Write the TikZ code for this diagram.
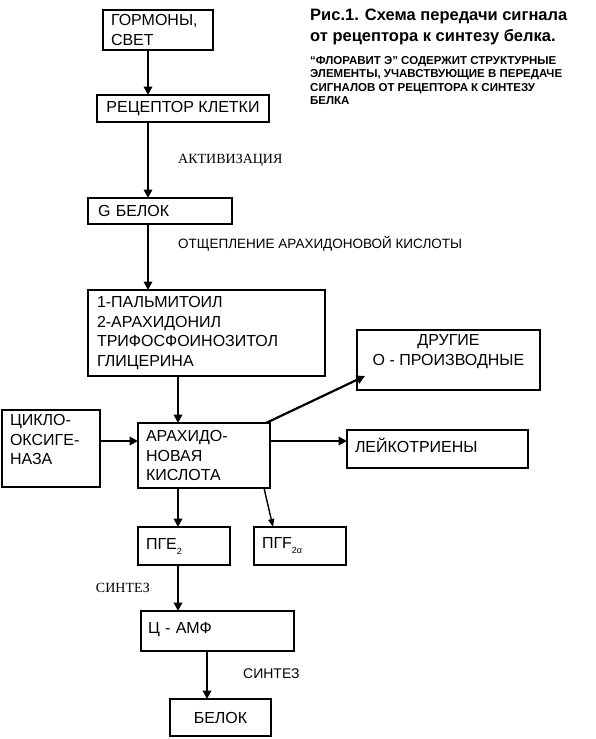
\documentclass[tikz,border=0pt]{standalone}
\usepackage{fontspec}
\setmainfont{Liberation Sans}
\newfontfamily\timesru{Liberation Serif}
\usetikzlibrary{arrows.meta, calc}
\newcommand\boxfont{\fontsize{16}{19.5}\selectfont}
\newcommand\lowidx[1]{\raisebox{-5pt}{\fontsize{9}{9}\selectfont #1}}
\tikzset{
  box/.style={draw, line width=2.6pt, outer sep=0pt, anchor=north west,
              align=left, inner xsep=8pt, inner ysep=2pt, font=\boxfont},
  arr/.style={-{Triangle[length=8.5pt, width=8.5pt]}, line width=2.8pt},
  thinarr/.style={-{Triangle[length=8pt, width=6pt]}, line width=1.4pt},
  lbl/.style={anchor=west, inner sep=0pt, font=\fontsize{13.5}{16}\selectfont},
  serif/.style={font=\timesru\fontsize{14}{16}\selectfont},
}
\begin{document}
\begin{tikzpicture}[x=1pt, y=-1pt]
  \useasboundingbox (0,0) rectangle (595,739);
  %% title
  \node[anchor=north west, inner sep=0pt, align=left,
        font=\bfseries\fontsize{16.5}{21}\selectfont] (titul) at (310,9)
    {Рис.1. Схема передачи сигнала\\от рецептора к синтезу белка.};
  \node[anchor=north west, inner sep=0pt, align=left,
        font=\bfseries\fontsize{11.5}{13.5}\selectfont] (prim) at (310,56)
    {“ФЛОРАВИТ Э” СОДЕРЖИТ СТРУКТУРНЫЕ\\ЭЛЕМЕНТЫ, УЧАВСТВУЮЩИЕ В ПЕРЕДАЧЕ\\СИГНАЛОВ ОТ РЕЦЕПТОРА К СИНТЕЗУ\\БЕЛКА};
  %% verticals
  \coordinate (ax) at (148,0);
  \coordinate (bx) at (178,0);
  \coordinate (cx) at (207,0);
  \coordinate (mid) at (0,441);
  %% boxes
  \node[box, minimum width=110pt, minimum height=40pt, text width=94pt] (gorm) at (103,10)
    {ГОРМОНЫ,\\СВЕТ};
  \node[box, align=center, minimum width=172pt, minimum height=27pt] (recep) at (97,95)
    {РЕЦЕПТОР КЛЕТКИ};
  \node[box, minimum width=144pt, minimum height=26pt, text width=124pt, inner xsep=10pt] (gbel) at (88,198)
    {G БЕЛОК};
  \node[box, minimum width=237pt, minimum height=86pt, text width=219pt, inner xsep=9pt] (glic) at (88,290)
    {1-ПАЛЬМИТОИЛ\\2-АРАХИДОНИЛ\\ТРИФОСФОИНОЗИТОЛ\\ГЛИЦЕРИНА};
  \node[box, minimum width=132pt, minimum height=65pt, text width=116pt] (arach) at (138,423)
    {АРАХИДО-\\НОВАЯ\\КИСЛОТА};
  \node[box, minimum width=98pt, minimum height=77pt, text width=82pt, text depth=57pt] (cyclo) at (2,410)
    {ЦИКЛО-\\ОКСИГЕ-\\НАЗА};
  \node[box, align=center, minimum width=183pt, minimum height=60pt, text depth=20pt] (other) at (357,330)
    {ДРУГИЕ\\О - ПРОИЗВОДНЫЕ};
  \node[box, minimum width=181pt, minimum height=38pt, text width=165pt, text depth=7pt] (leuk) at (347,430)
    {ЛЕЙКОТРИЕНЫ};
  \node[box, minimum width=92pt, minimum height=38pt, text width=76pt] (pge) at (138,527)
    {ПГЕ\lowidx{2}};
  \node[box, minimum width=92pt, minimum height=38pt, text width=76pt] (pgf) at (254,527)
    {ПГF\lowidx{2α}};
  \node[box, minimum width=153pt, minimum height=40pt, text width=139pt, inner xsep=7pt, text depth=7pt] (camp) at (141,611)
    {Ц - АМФ};
  \node[box, align=center, minimum width=101pt, minimum height=37pt] (belok) at (170,699)
    {БЕЛОК};
  %% arrows
  \draw[arr] (gorm.south -| ax) -- (recep.north -| ax);
  \draw[arr] (recep.south -| ax) -- (gbel.north -| ax);
  \draw[arr] (gbel.south -| ax) -- (glic.north -| ax);
  \draw[arr] (glic.south -| bx) -- (arach.north -| bx);
  \draw[arr] (cyclo.east |- mid) -- (arach.west |- mid);
  \draw[arr] (arach.east |- mid) -- (leuk.west |- mid);
  \draw[arr, line width=2.2pt] ($(arach.north east)+(-4,0)$) -- ($(other.south west)+(8,-14)$);
  \draw[arr] (arach.south -| bx) -- (pge.north -| bx);
  \draw[thinarr] ($(arach.south east)+(-6,0)$) -- ($(pgf.north west)+(19,0)$);
  \draw[arr] (pge.south -| bx) -- (camp.north -| bx);
  \draw[arr] (camp.south -| cx) -- (belok.north -| cx);
  %% labels
  \node[lbl, serif] (akt) at (178,160) {АКТИВИЗАЦИЯ};
  \node[lbl] (otshch) at (178,244) {ОТЩЕПЛЕНИЕ АРАХИДОНОВОЙ КИСЛОТЫ};
  \node[lbl, serif, anchor=east] (sint1) at (150,588) {СИНТЕЗ};
  \node[lbl, font=\fontsize{14}{16}\selectfont] (sint2) at (243,674) {СИНТЕЗ};
\end{tikzpicture}
\end{document}
